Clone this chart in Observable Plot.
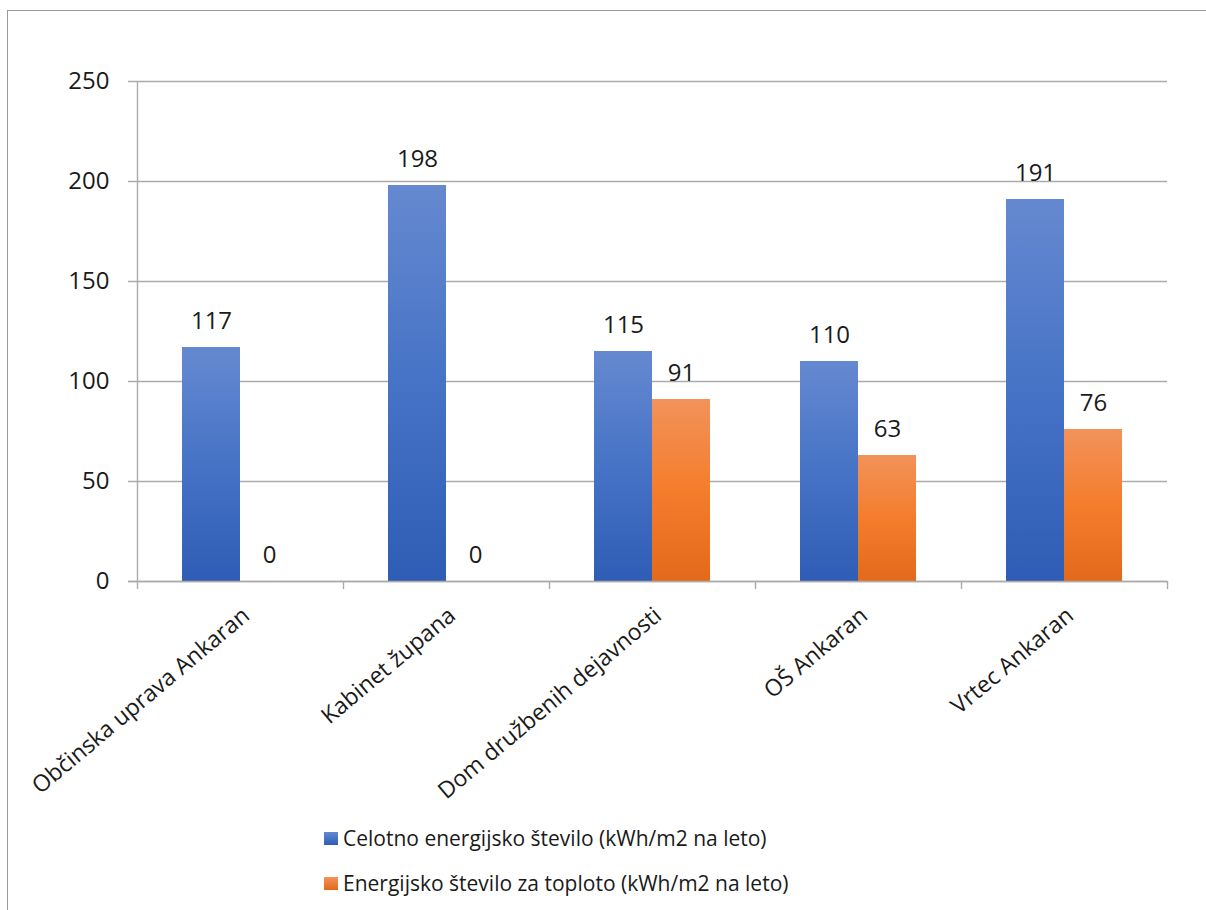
<!DOCTYPE html>
<html>
<head>
<meta charset="utf-8">
<script src="https://cdn.jsdelivr.net/npm/d3@7"></script>
<script src="https://cdn.jsdelivr.net/npm/@observablehq/plot@0.6"></script>
<style>
  html, body { margin: 0; padding: 0; background: #fff; }
  #wrap { position: relative; width: 1206px; height: 910px; overflow: hidden; font-family: "Open Sans", sans-serif; color: #1a1a1a; }
  #frame { position: absolute; left: 7px; top: 10px; width: 1220px; height: 920px; border-left: 1.5px solid #9a9a9a; border-top: 1.5px solid #9a9a9a; }
  #chart { position: absolute; left: 0; top: 0; }
  .leg { position: absolute; left: 324px; font-size: 21px; display: flex; align-items: center; white-space: nowrap; }
  .sw { width: 14px; height: 13px; margin-right: 5px; }
</style>
</head>
<body>
<div id="wrap">
  <div id="frame"></div>
  <div id="chart"></div>
  <div class="leg" style="top:824px"><span class="sw" style="background:linear-gradient(#6589d0,#2f5db5)"></span><span id="l1"></span></div>
  <div class="leg" style="top:869px"><span class="sw" style="background:linear-gradient(#f2925a,#e3691b)"></span><span id="l2"></span></div>
</div>
<script>
const categories = ["Občinska uprava Ankaran", "Kabinet župana", "Dom družbenih dejavnosti", "OŠ Ankaran", "Vrtec Ankaran"];
const totalValues = [117, 198, 115, 110, 191];
const heatValues = [0, 0, 91, 63, 76];
const seriesNames = ["Celotno energijsko število (kWh/m2 na leto)", "Energijsko število za toploto (kWh/m2 na leto)"];
const yTicks = [0, 50, 100, 150, 200, 250];

const data = categories.map((c, i) => ({category: c, total: totalValues[i], heat: heatValues[i]}));

const W = 1206, H = 820, mL = 137, mR = 39, mT = 81, mB = 239;
const band = (W - mL - mR) / categories.length;
const grid = "#ababab";
const ink = "#1a1a1a";

const chart = Plot.plot({
  width: W,
  height: H,
  marginLeft: mL,
  marginRight: mR,
  marginTop: mT,
  marginBottom: mB,
  style: {fontFamily: "Open Sans, sans-serif", fontSize: "22px", color: ink, background: "transparent", overflow: "visible"},
  x: {domain: categories, padding: 0, axis: null},
  y: {domain: [0, 250], axis: null},
  marks: [
    Plot.ruleY(yTicks, {stroke: grid, strokeWidth: 1.4, insetLeft: -9}),
    Plot.ruleX([categories[0]], {x: d => d, dx: -band / 2, stroke: grid, strokeWidth: 1.4, insetBottom: -8}),
    Plot.ruleX(categories, {x: d => d, dx: band / 2, y1: 0, y2: 0, stroke: grid, strokeWidth: 1.4, insetBottom: -8}),
    Plot.axisY(yTicks, {tickSize: 0, tickPadding: 28, fontSize: 24, label: null, fill: ink}),
    Plot.barY(data, {x: "category", y: "total", fill: "url(#gBlue)", insetLeft: 45, insetRight: 103}),
    Plot.barY(data, {x: "category", y: "heat", fill: "url(#gOrange)", insetLeft: 103, insetRight: 45}),
    Plot.ruleY([0], {stroke: grid, strokeWidth: 1.4, insetLeft: -9}),
    Plot.text(data, {x: "category", y: "total", text: d => String(d.total), dx: -29, dy: -26, fontSize: 24, fill: ink}),
    Plot.text(data, {x: "category", y: "heat", text: d => String(d.heat), dx: 29, dy: -26, fontSize: 24, fill: ink}),
    Plot.text(data, {x: "category", frameAnchor: "bottom", text: "category", rotate: -40, textAnchor: "end", lineAnchor: "top", dx: 0, dy: 24, fontSize: 23, fill: ink})
  ]
});

const defs = d3.select(chart).insert("defs", ":first-child");
function grad(id, stops) {
  const g = defs.append("linearGradient").attr("id", id).attr("x1", 0).attr("y1", 0).attr("x2", 0).attr("y2", 1);
  stops.forEach(([o, c]) => g.append("stop").attr("offset", o).attr("stop-color", c));
}
grad("gBlue", [[0, "#6589d0"], [0.5, "#4673c6"], [1, "#2f5db5"]]);
grad("gOrange", [[0, "#f2925a"], [0.5, "#f47d2c"], [1, "#e3691b"]]);

document.getElementById("chart").appendChild(chart);
document.getElementById("l1").textContent = seriesNames[0];
document.getElementById("l2").textContent = seriesNames[1];
</script>
</body>
</html>
